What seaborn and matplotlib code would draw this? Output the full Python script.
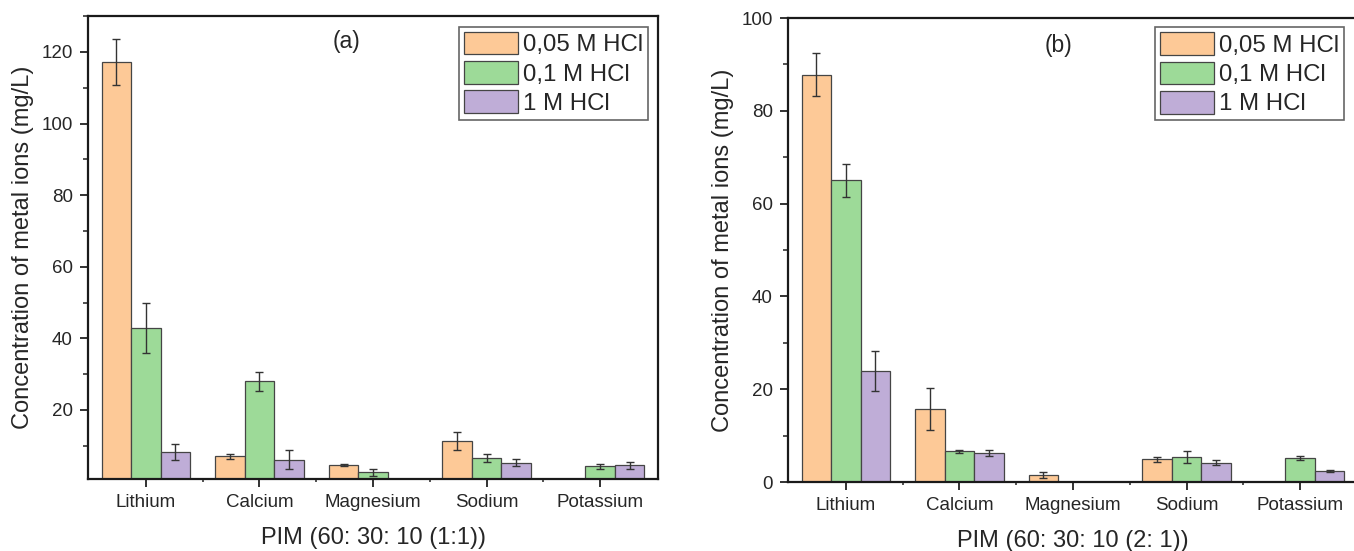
import numpy as np
import pandas as pd
import matplotlib
matplotlib.use("Agg")
import matplotlib.pyplot as plt
import seaborn as sns
from matplotlib.ticker import MultipleLocator, FixedLocator

# ---------------- data ----------------
elements = ["Lithium", "Calcium", "Magnesium", "Sodium", "Potassium"]
acids = ["0,05 M HCl", "0,1 M HCl", "1 M HCl"]

# panel (a) PIM (60: 30: 10 (1:1))
a_005 = [117.2, 7.1, 4.6, 11.3, 0.0]
a_01 = [42.8, 28.0, 2.6, 6.6, 4.2]
a_1 = [8.2, 6.1, 0.0, 5.2, 4.5]
a_005_err = [6.5, 0.7, 0.2, 2.5, 0.0]
a_01_err = [7.0, 2.7, 1.0, 1.1, 0.7]
a_1_err = [2.3, 2.6, 0.0, 1.0, 1.0]

# panel (b) PIM (60: 30: 10 (2: 1))
b_005 = [87.8, 15.8, 1.5, 4.9, 0.0]
b_01 = [65.0, 6.6, 0.0, 5.4, 5.2]
b_1 = [23.9, 6.2, 0.0, 4.2, 2.3]
b_005_err = [4.6, 4.5, 0.6, 0.5, 0.0]
b_01_err = [3.6, 0.4, 0.0, 1.3, 0.4]
b_1_err = [4.3, 0.6, 0.0, 0.6, 0.2]

colors = ["#FDC997", "#9DDA98", "#BFADD7"]
edge = "#454545"
txt = "#262626"

sns.set_style("ticks")
plt.rcParams["font.family"] = ["Liberation Sans", "DejaVu Sans"]

fig = plt.figure(figsize=(13.54, 5.51), dpi=100)
ax_a = fig.add_axes([0.065, 0.1307, 0.421, 0.840])
ax_b = fig.add_axes([0.582, 0.1252, 0.4209, 0.842])


def draw(ax, vals, errs, ylim, panel, panel_xy, xlabel, anchor):
    rows = []
    for acid, v in zip(acids, vals):
        for el, val in zip(elements, v):
            rows.append({"Element": el, "Acid": acid, "Value": val})
    df = pd.DataFrame(rows)
    sns.barplot(data=df, x="Element", y="Value", hue="Acid", order=elements,
                hue_order=acids, palette=colors, errorbar=None, width=0.78,
                edgecolor=edge, linewidth=0.9, saturation=1, ax=ax, zorder=2)
    for cont, err in zip(ax.containers, errs):
        xs = np.array([p.get_x() + p.get_width() / 2 for p in cont.patches])
        hs = np.array([p.get_height() for p in cont.patches])
        e = np.array(err, float)
        m = e > 0
        ax.errorbar(xs[m], hs[m], yerr=e[m], fmt="none", ecolor="#333333",
                    elinewidth=1.0, capsize=3, capthick=1.0, zorder=3)

    ax.set_xlim(-0.51, 4.51)
    ax.set_ylim(*ylim)
    ax.yaxis.set_major_locator(MultipleLocator(20))
    ax.yaxis.set_minor_locator(MultipleLocator(10))
    ax.xaxis.set_minor_locator(FixedLocator([0.5, 1.5, 2.5, 3.5]))
    ax.tick_params(axis="both", which="major", direction="out", length=6,
                   width=1.3, labelsize=13.5, colors="#222222",
                   labelcolor=txt, pad=5)
    ax.tick_params(axis="y", which="minor", direction="out", length=3.5,
                   width=1.1, colors="#222222")
    ax.tick_params(axis="x", which="minor", direction="out", length=2,
                   width=1.1, colors="#222222")
    for s in ax.spines.values():
        s.set_visible(True)
        s.set_linewidth(1.6)
        s.set_color("#1a1a1a")
    ax.set_xlabel(xlabel, fontsize=17, color=txt, labelpad=11)
    ax.set_ylabel("Concentration of metal ions (mg/L)", fontsize=17,
                  color=txt, labelpad=5)
    ax.text(panel_xy[0], panel_xy[1], panel, transform=ax.transAxes,
            ha="center", va="center", fontsize=16.5, color=txt)

    handles, labels = ax.get_legend_handles_labels()
    if ax.get_legend() is not None:
        ax.get_legend().remove()
    leg = ax.legend(handles, labels, loc="upper right", bbox_to_anchor=anchor,
                    borderaxespad=0, frameon=True, fancybox=False,
                    edgecolor="#666666", framealpha=1, fontsize=17.3,
                    handlelength=2.25, handleheight=1.08, labelspacing=0.2,
                    borderpad=0.2, handletextpad=0.22)
    leg.get_frame().set_linewidth(1.2)
    for t in leg.get_texts():
        t.set_color(txt)


draw(ax_a, [a_005, a_01, a_1], [a_005_err, a_01_err, a_1_err], (0.7, 130),
     "(a)", (0.453, 0.946), "PIM (60: 30: 10 (1:1))", (0.9825, 0.977))
draw(ax_b, [b_005, b_01, b_1], [b_005_err, b_01_err, b_1_err], (0, 100),
     "(b)", (0.475, 0.941), "PIM (60: 30: 10 (2: 1))", (0.976, 0.980))

fig.savefig("out.png", dpi=100)
